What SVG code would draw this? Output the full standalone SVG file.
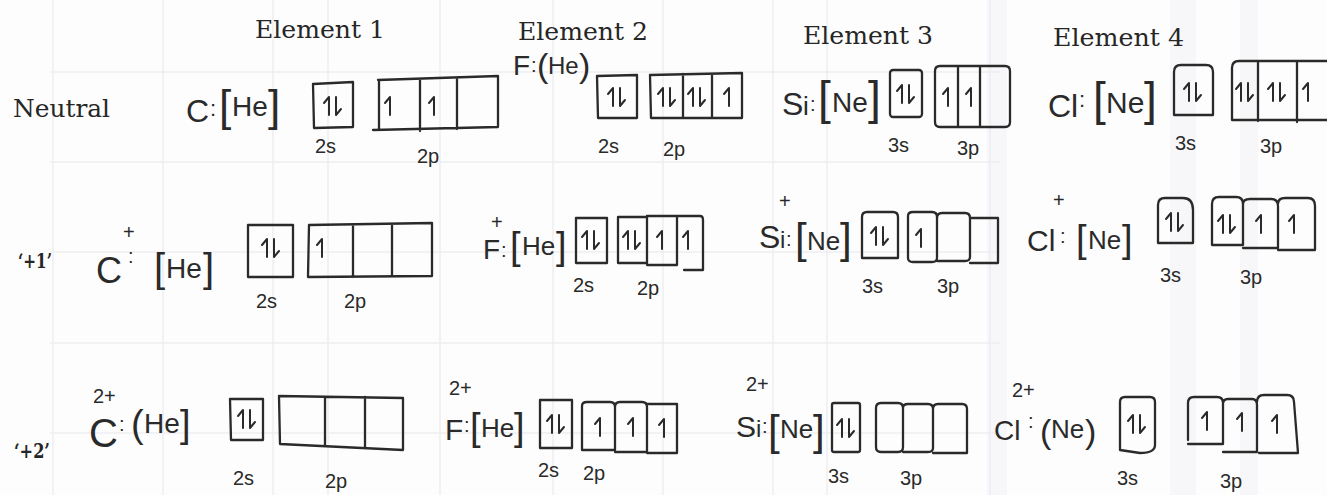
<svg xmlns="http://www.w3.org/2000/svg" xmlns:xlink="http://www.w3.org/1999/xlink" width="1327" height="495" viewBox="0 0 1327 495">
<style>
.bg{fill:#fdfdfd}
.grid{stroke:#eeeef2;stroke-width:1.5;fill:none}
.band{fill:#f7f7f9}
.hd{font-family:"DejaVu Serif","Liberation Serif",serif;font-size:25px;fill:#262626}
.rl{font-family:"DejaVu Serif","Liberation Serif",serif;font-size:21px;font-weight:bold;fill:#262626}
.hw{font-family:"Liberation Sans","DejaVu Sans",sans-serif;fill:#2a2a2a}
.lb{font-family:"Liberation Sans","DejaVu Sans",sans-serif;font-size:20px;fill:#2a2a2a}
.ar{fill:none;stroke:#2a2a2a;stroke-width:2;stroke-linejoin:round;stroke-linecap:round}
.bx{fill:none;stroke:#2a2a2a;stroke-width:2.3;stroke-linejoin:round;stroke-linecap:round}
</style>
<defs>
<path id="up" class="ar" d="M0 9V-9L-5 -3"/>
<path id="dn" class="ar" d="M0 -9V9L5 3"/>
<g id="pair"><use href="#up" xlink:href="#up" x="-4" y="0"/><use href="#dn" xlink:href="#dn" x="3" y="0"/></g>
</defs>
<rect class="bg" x="0" y="0" width="1327" height="495"/>
<g id="background">
<rect class="band" x="1170" y="0" width="26" height="495"/>
<rect class="band" x="1240" y="0" width="18" height="495"/>
<rect class="band" x="987" y="0" width="20" height="495"/>
<path class="grid" d="M50 72H1000M50 162H1000M50 252H1000M50 343H1000M50 433H1000M53 0V495M163 0V495M273 0V495M328 0V495M440 0V495M553 0V495M663 0V495M773 0V495M827 0V495M990 0V495"/>
</g>
<g id="headers">
<text class="hd" x="255" y="38" textLength="130" lengthAdjust="spacingAndGlyphs">Element 1</text>
<text class="hd" x="518" y="40" textLength="130" lengthAdjust="spacingAndGlyphs">Element 2</text>
<text class="hd" x="803" y="44" textLength="130" lengthAdjust="spacingAndGlyphs">Element 3</text>
<text class="hd" x="1053" y="46" textLength="131" lengthAdjust="spacingAndGlyphs">Element 4</text>
</g>
<g id="row-labels">
<text class="hd" x="13" y="117" textLength="97" lengthAdjust="spacingAndGlyphs">Neutral</text>
<text class="rl" x="18" y="268" textLength="34" lengthAdjust="spacingAndGlyphs">‘+1’</text>
<text class="rl" x="14" y="458" textLength="36" lengthAdjust="spacingAndGlyphs">‘+2’</text>
</g>

<!-- Row 1: Neutral -->
<g id="c-neutral">
<text class="hw"><tspan x="186" y="122" font-size="32">C</tspan><tspan x="210" y="116" font-size="22">:</tspan><tspan x="219" y="121" font-size="44">[</tspan><tspan x="232" y="116" font-size="28">He</tspan><tspan x="268" y="121" font-size="44">]</tspan></text>
<path class="bx" d="M313 84L353 82L353 127L314 128Z"/>
<use href="#pair" xlink:href="#pair" x="333" y="106"/>
<path class="bx" d="M378 80L498 76L498 127L373 130M379 80V129M420 79V131M457 78V129"/>
<use href="#up" xlink:href="#up" x="390" y="106"/>
<use href="#up" xlink:href="#up" x="434" y="106"/>
<text class="lb" x="315" y="153">2s</text>
<text class="lb" x="417" y="163">2p</text>
</g>
<g id="f-neutral">
<text class="hw"><tspan x="513" y="75" font-size="28">F</tspan><tspan x="531" y="72" font-size="20">:</tspan><tspan x="537" y="77" font-size="34">(</tspan><tspan x="548" y="74" font-size="24">He</tspan><tspan x="579" y="77" font-size="34">)</tspan></text>
<path class="bx" d="M597 76L637 75L637 118L598 118Z"/>
<use href="#pair" xlink:href="#pair" x="617" y="97"/>
<path class="bx" d="M650 75L742 73L742 118L651 118ZM683 74V118M712 74V118"/>
<use href="#pair" xlink:href="#pair" x="667" y="97"/>
<use href="#pair" xlink:href="#pair" x="697" y="97"/>
<use href="#up" xlink:href="#up" x="729" y="97"/>
<text class="lb" x="598" y="153">2s</text>
<text class="lb" x="663" y="156">2p</text>
</g>
<g id="si-neutral">
<text class="hw"><tspan x="782" y="115" font-size="32">S</tspan><tspan x="803" y="115" font-size="26">i</tspan><tspan x="810" y="111" font-size="20">:</tspan><tspan x="818" y="114" font-size="46">[</tspan><tspan x="832" y="112" font-size="28">Ne</tspan><tspan x="868" y="114" font-size="46">]</tspan></text>
<rect class="bx" x="890" y="70" width="32" height="47" rx="3"/>
<use href="#pair" xlink:href="#pair" x="906" y="94"/>
<path class="bx" d="M940 66H1005Q1010 66 1010 71V122Q1010 127 1005 127H940Q935 127 935 122V71Q935 66 940 66ZM958 67V127M980 66V127"/>
<use href="#up" xlink:href="#up" x="948" y="97"/>
<use href="#up" xlink:href="#up" x="971" y="97"/>
<text class="lb" x="888" y="152">3s</text>
<text class="lb" x="957" y="155">3p</text>
</g>
<g id="cl-neutral">
<text class="hw"><tspan x="1048" y="117" font-size="32">Cl</tspan><tspan x="1079" y="107" font-size="22">:</tspan><tspan x="1093" y="115" font-size="46">[</tspan><tspan x="1106" y="113" font-size="30">Ne</tspan><tspan x="1144" y="115" font-size="46">]</tspan></text>
<path class="bx" d="M1174 115V72Q1174 65 1181 65H1206Q1213 65 1213 72V115Z"/>
<use href="#pair" xlink:href="#pair" x="1193" y="92"/>
<path class="bx" d="M1232 120V68Q1232 61 1239 61H1340M1232 120H1340M1258 62V121M1297 61V122"/>
<use href="#pair" xlink:href="#pair" x="1245" y="92"/>
<use href="#pair" xlink:href="#pair" x="1277" y="92"/>
<use href="#up" xlink:href="#up" x="1308" y="92"/>
<text class="lb" x="1175" y="150">3s</text>
<text class="lb" x="1260" y="153">3p</text>
</g>

<!-- Row 2: +1 -->
<g id="c-plus1">
<text class="hw"><tspan x="96" y="283" font-size="36">C</tspan><tspan x="123" y="239" font-size="20">+</tspan><tspan x="128" y="263" font-size="20">:</tspan><tspan x="154" y="282" font-size="40">[</tspan><tspan x="166" y="278" font-size="28">He</tspan><tspan x="203" y="282" font-size="40">]</tspan></text>
<path class="bx" d="M248 225H293V277H248Z"/>
<use href="#pair" xlink:href="#pair" x="271" y="248"/>
<path class="bx" d="M309 225L432 223L432 276L308 277ZM353 225V277M392 224V276"/>
<use href="#up" xlink:href="#up" x="322" y="248"/>
<text class="lb" x="256" y="308">2s</text>
<text class="lb" x="344" y="308">2p</text>
</g>
<g id="f-plus1">
<text class="hw"><tspan x="483" y="259" font-size="28">F</tspan><tspan x="491" y="229" font-size="20">+</tspan><tspan x="501" y="257" font-size="20">:</tspan><tspan x="510" y="259" font-size="38">[</tspan><tspan x="522" y="255" font-size="26">He</tspan><tspan x="556" y="259" font-size="38">]</tspan></text>
<path class="bx" d="M576 218H607V263H576Z"/>
<use href="#pair" xlink:href="#pair" x="591" y="240"/>
<path class="bx" d="M618 217H647V263H618ZM647 216H677V265H647M677 216H700Q703 216 703 220V270H684"/>
<use href="#pair" xlink:href="#pair" x="632" y="240"/>
<use href="#up" xlink:href="#up" x="662" y="240"/>
<use href="#up" xlink:href="#up" x="688" y="240"/>
<text class="lb" x="573" y="292">2s</text>
<text class="lb" x="637" y="295">2p</text>
</g>
<g id="si-plus1">
<text class="hw"><tspan x="759" y="248" font-size="32">S</tspan><tspan x="780" y="248" font-size="24">i</tspan><tspan x="779" y="208" font-size="20">+</tspan><tspan x="786" y="246" font-size="20">:</tspan><tspan x="795" y="253" font-size="42">[</tspan><tspan x="807" y="250" font-size="26">Ne</tspan><tspan x="840" y="253" font-size="42">]</tspan></text>
<path class="bx" d="M862 258V217Q862 212 867 212H893Q898 212 898 217V258Z"/>
<use href="#pair" xlink:href="#pair" x="880" y="236"/>
<path class="bx" d="M908 216Q908 212 913 212H932Q937 212 937 217V258Q937 262 932 262H913Q908 262 908 258ZM937 218Q937 213 942 213H965Q970 213 970 218V257Q970 261 965 261H937M970 218H998V263H970"/>
<use href="#up" xlink:href="#up" x="921" y="238"/>
<text class="lb" x="862" y="293">3s</text>
<text class="lb" x="937" y="293">3p</text>
</g>
<g id="cl-plus1">
<text class="hw"><tspan x="1027" y="251" font-size="30">Cl</tspan><tspan x="1053" y="207" font-size="20">+</tspan><tspan x="1060" y="243" font-size="20">:</tspan><tspan x="1076" y="252" font-size="38">[</tspan><tspan x="1088" y="249" font-size="26">Ne</tspan><tspan x="1122" y="252" font-size="38">]</tspan></text>
<path class="bx" d="M1158 243V205Q1158 198 1165 198H1183Q1193 198 1193 210V243Z"/>
<use href="#pair" xlink:href="#pair" x="1175" y="222"/>
<path class="bx" d="M1212 245V204Q1212 197 1219 197H1236Q1243 197 1243 204V245H1212M1243 204Q1243 199 1250 199H1271Q1278 199 1278 206V248H1243M1278 204Q1278 198 1285 198H1308Q1315 198 1315 206V250H1278"/>
<use href="#pair" xlink:href="#pair" x="1227" y="224"/>
<use href="#up" xlink:href="#up" x="1261" y="224"/>
<use href="#up" xlink:href="#up" x="1294" y="224"/>
<text class="lb" x="1160" y="282">3s</text>
<text class="lb" x="1240" y="284">3p</text>
</g>

<!-- Row 3: +2 -->
<g id="c-plus2">
<text class="hw"><tspan x="89" y="447" font-size="40">C</tspan><tspan x="93" y="403" font-size="20">2+</tspan><tspan x="119" y="431" font-size="20">:</tspan><tspan x="131" y="437" font-size="38">(</tspan><tspan x="144" y="433" font-size="28">He</tspan><tspan x="180" y="437" font-size="38">]</tspan></text>
<path class="bx" d="M230 399H263V440H231Z"/>
<use href="#pair" xlink:href="#pair" x="247" y="419"/>
<path class="bx" d="M279 396L403 398L403 450L280 444ZM325 397V446M365 397V448"/>
<text class="lb" x="233" y="485">2s</text>
<text class="lb" x="325" y="488">2p</text>
</g>
<g id="f-plus2">
<text class="hw"><tspan x="445" y="440" font-size="30">F</tspan><tspan x="449" y="395" font-size="20">2+</tspan><tspan x="464" y="432" font-size="20">:</tspan><tspan x="470" y="440" font-size="38">[</tspan><tspan x="481" y="437" font-size="26">He</tspan><tspan x="514" y="440" font-size="38">]</tspan></text>
<rect class="bx" x="540" y="400" width="32" height="48"/>
<use href="#pair" xlink:href="#pair" x="556" y="424"/>
<path class="bx" d="M582 406Q582 402 587 402H610Q615 402 615 407V450H582ZM615 407Q615 402 620 402H642Q647 402 647 407V452H615M647 404H677V453H647"/>
<use href="#up" xlink:href="#up" x="600" y="427"/>
<use href="#up" xlink:href="#up" x="633" y="427"/>
<use href="#up" xlink:href="#up" x="664" y="428"/>
<text class="lb" x="538" y="477">2s</text>
<text class="lb" x="583" y="480">2p</text>
</g>
<g id="si-plus2">
<text class="hw"><tspan x="736" y="437" font-size="30">S</tspan><tspan x="756" y="437" font-size="24">i</tspan><tspan x="746" y="391" font-size="20">2+</tspan><tspan x="762" y="433" font-size="20">:</tspan><tspan x="768" y="445" font-size="42">[</tspan><tspan x="780" y="438" font-size="26">Ne</tspan><tspan x="813" y="445" font-size="42">]</tspan></text>
<rect class="bx" x="832" y="403" width="28" height="49" rx="2"/>
<use href="#pair" xlink:href="#pair" x="846" y="428"/>
<path class="bx" d="M876 408Q876 403 881 403H898Q903 403 903 408V447Q903 452 898 452H881Q876 452 876 447ZM903 408Q903 404 908 404H928Q933 404 933 409V448Q933 452 928 452H903M933 409Q933 404 938 404H962Q967 404 967 409V453H933"/>
<text class="lb" x="828" y="483">3s</text>
<text class="lb" x="900" y="485">3p</text>
</g>
<g id="cl-plus2">
<text class="hw"><tspan x="994" y="440" font-size="28">Cl</tspan><tspan x="1012" y="397" font-size="20">2+</tspan><tspan x="1028" y="428" font-size="20">:</tspan><tspan x="1040" y="443" font-size="34">(</tspan><tspan x="1051" y="438" font-size="26">Ne</tspan><tspan x="1085" y="443" font-size="34">)</tspan></text>
<path class="bx" d="M1120 450V402Q1120 397 1125 397H1150Q1155 397 1155 402V445Q1155 453 1140 453Z"/>
<use href="#pair" xlink:href="#pair" x="1137" y="424"/>
<path class="bx" d="M1188 440V403Q1188 397 1194 397H1217Q1223 397 1223 403V444H1188M1223 404Q1223 399 1228 399H1252Q1257 399 1257 405V452H1223M1257 402Q1257 395 1264 395H1287Q1294 395 1294 402L1298 453H1259"/>
<use href="#up" xlink:href="#up" x="1207" y="421"/>
<use href="#up" xlink:href="#up" x="1242" y="422"/>
<use href="#up" xlink:href="#up" x="1277" y="424"/>
<text class="lb" x="1117" y="485">3s</text>
<text class="lb" x="1220" y="488">3p</text>
</g>
</svg>
